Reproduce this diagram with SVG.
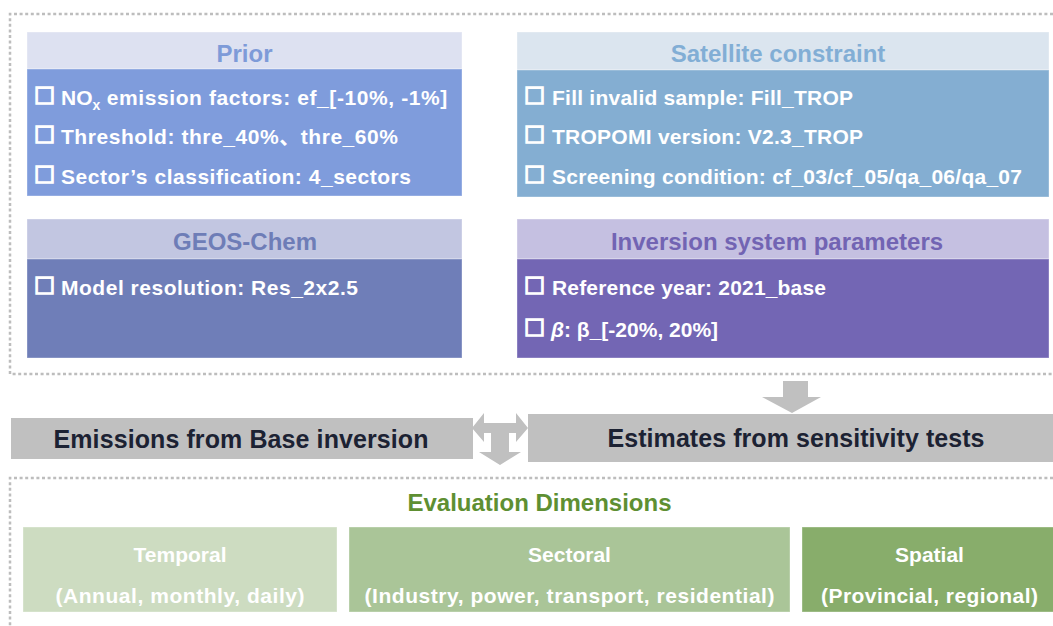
<svg xmlns="http://www.w3.org/2000/svg" width="1053" height="626" viewBox="0 0 1053 626">
<style>
.frame{fill:none;stroke:#bdbdbd;stroke-width:2.5;stroke-dasharray:3 2.6}
.hd{font-family:"Liberation Sans",Arial,sans-serif;font-weight:bold;font-size:24px;text-anchor:middle}
.it{font-family:"Liberation Sans",Arial,"Noto Sans CJK SC",sans-serif;font-weight:bold;font-size:21px;fill:#ffffff}
.cb{font-family:"Liberation Sans","DejaVu Sans",sans-serif;font-weight:bold;font-size:28px;fill:#ffffff;stroke:#ffffff;stroke-width:1.6}
.bar{fill:#c0c0c0}
.bt{font-family:"Liberation Sans",Arial,sans-serif;font-weight:bold;font-size:25px;fill:#1c2233;text-anchor:middle}
.ev{font-family:"Liberation Sans",Arial,sans-serif;font-weight:bold;font-size:21px;fill:#ffffff;text-anchor:middle}
.edge{stroke:#ffffff;stroke-opacity:0.35;stroke-width:1}
.arr{fill:#c0c0c0}
</style>
<rect x="0" y="0" width="1053" height="626" fill="#ffffff"/>
<path class="frame" d="M1053,14 H10 V374 H1053"/>
<path class="frame" d="M1053,478 H10 V626"/>

<g id="prior">
<rect class="edge" x="27" y="32" width="435" height="37" fill="#dde1f1"/>
<rect class="edge" x="27" y="69" width="435" height="127" fill="#7f9cdc"/>
<text class="hd" x="244.5" y="62" fill="#7e9bd8">Prior</text>
<text class="cb" x="36" y="104">□</text>
<text class="it" x="61" y="105">NO<tspan font-size="14" dy="5">x</tspan><tspan dy="-5" textLength="347"> emission factors: ef_[-10%, -1%]</tspan></text>
<text class="cb" x="36" y="143">□</text>
<text class="it" x="61" y="144" textLength="337">Threshold: thre_40%、thre_60%</text>
<text class="cb" x="36" y="183">□</text>
<text class="it" x="61" y="184" textLength="350">Sector’s classification: 4_sectors</text>
</g>

<g id="satellite">
<rect class="edge" x="517" y="32" width="532" height="38" fill="#dbe5ef"/>
<rect class="edge" x="517" y="70" width="532" height="127" fill="#84aed2"/>
<text class="hd" x="778" y="62" fill="#82aed5">Satellite constraint</text>
<text class="cb" x="526" y="104">□</text>
<text class="it" x="552" y="105" textLength="301">Fill invalid sample: Fill_TROP</text>
<text class="cb" x="526" y="143">□</text>
<text class="it" x="552" y="144" textLength="311">TROPOMI version: V2.3_TROP</text>
<text class="cb" x="526" y="183">□</text>
<text class="it" x="552" y="184" textLength="470">Screening condition: cf_03/cf_05/qa_06/qa_07</text>
</g>

<g id="geoschem">
<rect class="edge" x="27" y="219" width="435" height="40" fill="#c2c6e1"/>
<rect class="edge" x="27" y="259" width="435" height="99" fill="#6f7eb8"/>
<text class="hd" x="245" y="250" fill="#6e7db7">GEOS-Chem</text>
<text class="cb" x="36" y="294">□</text>
<text class="it" x="61" y="295" textLength="297">Model resolution: Res_2x2.5</text>
</g>

<g id="inversion">
<rect class="edge" x="517" y="219" width="532" height="40" fill="#c5c0e1"/>
<rect class="edge" x="517" y="259" width="532" height="99" fill="#7366b4"/>
<text class="hd" x="777" y="250" fill="#7264b3">Inversion system parameters</text>
<text class="cb" x="526" y="294">□</text>
<text class="it" x="552" y="295" textLength="274">Reference year: 2021_base</text>
<text class="cb" x="526" y="336">□</text>
<text class="it" x="551" y="337"><tspan font-style="italic">β</tspan>: β_[-20%, 20%]</text>
</g>

<g id="connectors">
<polygon class="arr" points="783,381 808,381 808,397 821,397 792,413 762,397 783,397"/>
<polygon class="arr" points="472,428 484,413 484,423 516,423 516,413 528,428 516,442 516,433 509,433 509,452 521,452 500,465 479,452 491,452 491,433 484,433 484,442"/>
</g>

<g id="base">
<rect class="bar" x="11" y="418" width="462" height="41"/>
<text class="bt" x="241" y="448" textLength="375">Emissions from Base inversion</text>
</g>

<g id="sensitivity">
<rect class="bar" x="528" y="414" width="525" height="48"/>
<text class="bt" x="796" y="447" textLength="377">Estimates from sensitivity tests</text>
</g>

<g id="evaluation">
<text x="539.5" y="511" font-family="Liberation Sans, Arial, sans-serif" font-weight="bold" font-size="24" fill="#5e8f32" text-anchor="middle">Evaluation Dimensions</text>
</g>

<g id="temporal">
<rect class="edge" x="23" y="527" width="314" height="85" fill="#cddcc1"/>
<text class="ev" x="180" y="562">Temporal</text>
<text class="ev" x="180" y="603" textLength="249">(Annual, monthly, daily)</text>
</g>

<g id="sectoral">
<rect class="edge" x="349" y="527" width="441" height="85" fill="#aac598"/>
<text class="ev" x="569.5" y="562">Sectoral</text>
<text class="ev" x="569.5" y="603" textLength="410">(Industry, power, transport, residential)</text>
</g>

<g id="spatial">
<rect class="edge" x="802" y="527" width="255" height="85" fill="#88ad6b"/>
<text class="ev" x="929.5" y="562">Spatial</text>
<text class="ev" x="929.5" y="603" textLength="217">(Provincial, regional)</text>
</g>
</svg>
